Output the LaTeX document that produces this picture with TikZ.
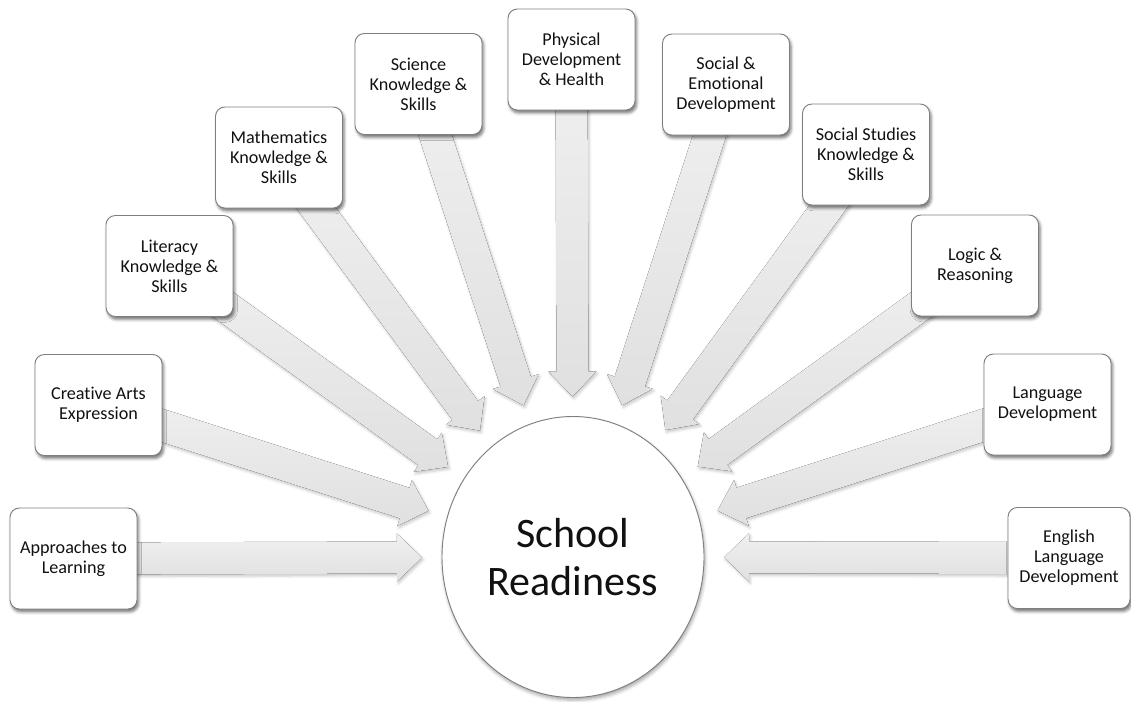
\documentclass[tikz,border=0pt]{standalone}
\usepackage{fontspec}
\setmainfont{Carlito}[Ligatures=NoCommon]
\usetikzlibrary{calc,shapes.geometric,shadows.blur}
\definecolor{boxline}{HTML}{7F7F7F}
\definecolor{arrowA}{HTML}{F0F0F0}
\definecolor{arrowB}{HTML}{E0E0E0}
\definecolor{txt}{HTML}{111111}
\pgfdeclarelayer{bg}
\pgfsetlayers{bg,main}
\tikzset{
  topic/.style={draw=boxline, line width=0.7pt, fill=white, rounded corners=7pt,
    minimum width=95.25pt, minimum height=75.75pt, inner sep=0pt, align=center,
    font=\fontsize{13.6}{15}\selectfont, text=txt,
    blur shadow={shadow xshift=1.2pt, shadow yshift=-2.2pt, shadow blur radius=2.2pt, shadow opacity=55}},
  hub/.style={ellipse, draw=boxline, line width=0.7pt, fill=white,
    minimum width=196.5pt, minimum height=210.75pt, inner sep=0pt, outer sep=15pt,
    align=center, font=\fontsize{31.5}{35.5}\selectfont, text=txt,
    blur shadow={shadow xshift=0.8pt, shadow yshift=-2pt, shadow blur radius=2.5pt, shadow opacity=35}},
  arrowbody/.style={top color=arrowA, bottom color=arrowB,
    blur shadow={shadow xshift=1pt, shadow yshift=-1.6pt, shadow blur radius=2pt, shadow opacity=22}}
}
% #1 box node, #2 name prefix
\newcommand\flowarrow[2]{%
  \path (#1.center) -- (hub) coordinate[pos=0] (#2s) coordinate[pos=1] (#2t);
  \coordinate (#2b) at ($(#2t)!18.75pt!(#2s)$);
  \fill[arrowbody] ($(#2s)!12pt!90:(#2t)$) -- ($(#2b)!12pt!90:(#2t)$) -- ($(#2b)!18pt!90:(#2t)$)
     -- (#2t) -- ($(#2b)!18pt!-90:(#2t)$) -- ($(#2b)!12pt!-90:(#2t)$) -- ($(#2s)!12pt!-90:(#2t)$) -- cycle;
}
\begin{document}
\begin{tikzpicture}[x=0.75pt,y=-0.75pt]
\useasboundingbox (0,0) rectangle (1131,701);
\node[hub] (hub) at (573,557) {School\\Readiness};
\node[topic] (b1) at (73.5,558.5) {Approaches to\\Learning};
\node[topic] (b2) at (98.5,405) {Creative Arts\\Expression};
\node[topic] (b3) at (169.5,266) {Literacy\\Knowledge \&\\Skills};
\node[topic] (b4) at (279,157.5) {Mathematics\\Knowledge \&\\Skills};
\node[topic] (b5) at (418.5,84) {Science\\Knowledge \&\\Skills};
\node[topic] (b6) at (571.5,59.5) {Physical\\Development\\\& Health};
\node[topic] (b7) at (726,84.5) {Social \&\\Emotional\\Development};
\node[topic] (b8) at (866,154.5) {Social Studies\\Knowledge \&\\Skills};
\node[topic] (b9) at (975,265.5) {Logic \&\\Reasoning};
\node[topic] (b10) at (1047.5,404.5) {Language\\Development};
\node[topic, minimum width=91.5pt] (b11) at (1069,558) {English\\Language\\Development};
\begin{pgfonlayer}{bg}
\flowarrow{b1}{a1}
\flowarrow{b2}{a2}
\flowarrow{b3}{a3}
\flowarrow{b4}{a4}
\flowarrow{b5}{a5}
\flowarrow{b6}{a6}
\flowarrow{b7}{a7}
\flowarrow{b8}{a8}
\flowarrow{b9}{a9}
\flowarrow{b10}{a10}
\flowarrow{b11}{a11}
\end{pgfonlayer}
\end{tikzpicture}
\end{document}
